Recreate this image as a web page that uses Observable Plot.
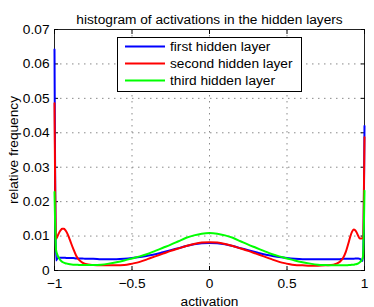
<!DOCTYPE html>
<html>
<head>
<meta charset="utf-8">
<script src="https://cdn.jsdelivr.net/npm/d3@7"></script>
<script src="https://cdn.jsdelivr.net/npm/@observablehq/plot@0.6"></script>
<style>
  html, body { margin: 0; padding: 0; background: #fff; }
  #wrap { position: relative; width: 374px; height: 307px; font-family: "Liberation Sans", Arial, sans-serif; }
  #legend { position: absolute; left: 117px; top: 37px; }
</style>
</head>
<body>
<div id="wrap">
  <div id="chart"></div>
  <svg id="legend" width="185" height="55"></svg>
</div>
<script>
const activation = [
  -1, -0.99, -0.98, -0.97, -0.96, -0.95, -0.94, -0.93, -0.92, -0.91, -0.9, -0.88, -0.86, -0.84, -0.82, -0.8,
  -0.75, -0.7, -0.65, -0.6, -0.55, -0.5, -0.45, -0.4, -0.35, -0.3, -0.25, -0.2, -0.15, -0.1, -0.05,
  0,
  0.05, 0.1, 0.15, 0.2, 0.25, 0.3, 0.35, 0.4, 0.45, 0.5, 0.55, 0.6, 0.65, 0.7, 0.75,
  0.8, 0.82, 0.84, 0.86, 0.88, 0.9, 0.91, 0.92, 0.93, 0.94, 0.95, 0.96, 0.97, 0.98, 0.99, 1
];
const firstLayer = [
  0.0642, 0.0029, 0.0036, 0.0037, 0.0037, 0.0037, 0.0037, 0.0037, 0.0036, 0.0036, 0.0036, 0.0036, 0.0035, 0.0035, 0.0035, 0.0034,
  0.0034, 0.0033, 0.0033, 0.0033, 0.0034, 0.0036, 0.0039, 0.0043, 0.0047, 0.0053, 0.0059, 0.0065, 0.0071, 0.0076, 0.0079,
  0.0080,
  0.0079, 0.0076, 0.0071, 0.0065, 0.0059, 0.0053, 0.0047, 0.0043, 0.0039, 0.0036, 0.0034, 0.0033, 0.0033, 0.0033, 0.0033,
  0.0033, 0.0033, 0.0033, 0.0034, 0.0034, 0.0034, 0.0034, 0.0034, 0.0034, 0.0035, 0.0035, 0.0035, 0.0034, 0.0030, 0.0028, 0.0420
];
const secondLayer = [
  0.0486, 0.0092, 0.0100, 0.0110, 0.0117, 0.0121, 0.0121, 0.0117, 0.0110, 0.0100, 0.0088, 0.0064, 0.0043, 0.0030, 0.0023, 0.0019,
  0.0016, 0.0015, 0.0015, 0.0015, 0.0016, 0.0020, 0.0025, 0.0033, 0.0041, 0.0049, 0.0057, 0.0064, 0.0071, 0.0077, 0.0081,
  0.0082,
  0.0081, 0.0077, 0.0071, 0.0064, 0.0057, 0.0049, 0.0041, 0.0033, 0.0025, 0.0020, 0.0016, 0.0015, 0.0014, 0.0014, 0.0015,
  0.0017, 0.0020, 0.0025, 0.0035, 0.0055, 0.0085, 0.0101, 0.0113, 0.0119, 0.0117, 0.0110, 0.0100, 0.0093, 0.0093, 0.0095, 0.0387
];
const thirdLayer = [
  0.0228, 0.0060, 0.0044, 0.0035, 0.0029, 0.0025, 0.0023, 0.0021, 0.0020, 0.0019, 0.0018, 0.0017, 0.0017, 0.0016, 0.0016, 0.0016,
  0.0016, 0.0017, 0.0020, 0.0024, 0.0029, 0.0035, 0.0041, 0.0048, 0.0057, 0.0066, 0.0075, 0.0085, 0.0095, 0.0102, 0.0107,
  0.0109,
  0.0107, 0.0102, 0.0095, 0.0085, 0.0075, 0.0066, 0.0057, 0.0048, 0.0041, 0.0035, 0.0029, 0.0024, 0.0020, 0.0017, 0.0016,
  0.0015, 0.0015, 0.0015, 0.0015, 0.0015, 0.0016, 0.0016, 0.0017, 0.0017, 0.0018, 0.0019, 0.0021, 0.0024, 0.0029, 0.0040, 0.0232
];
const seriesNames = ["first hidden layer", "second hidden layer", "third hidden layer"];
const seriesColors = ["#0000ff", "#ff0000", "#00ff00"];
const xTicks = [-1, -0.5, 0, 0.5, 1];
const yTicks = [0, 0.01, 0.02, 0.03, 0.04, 0.05, 0.06, 0.07];
const titleText = "histogram of activations in the hidden layers";
const xLabel = "activation";
const yLabel = "relative frequency";

const seriesValues = [firstLayer, secondLayer, thirdLayer];
const rows = [];
seriesValues.forEach((vals, s) => {
  vals.forEach((v, i) => rows.push({x: activation[i], y: v, series: seriesNames[s]}));
});

const fontSize = 13.7;
const fmt = d => (d < 0 ? "\u2212" : "") + String(Math.abs(d));
const gridStyle = {stroke: "#8a8a8a", strokeOpacity: 1, strokeDasharray: "1.5,4.5"};

const chart = Plot.plot({
  width: 374,
  height: 307,
  marginLeft: 54,
  marginRight: 10,
  marginTop: 29,
  marginBottom: 37,
  style: {fontFamily: "'Liberation Sans', Arial, sans-serif", fontSize: fontSize + "px", background: "white", color: "#000"},
  x: {domain: [-1, 1]},
  y: {domain: [0, 0.07]},
  color: {domain: seriesNames, range: seriesColors},
  marks: [
    Plot.gridX(xTicks.filter(t => t > -1 && t < 1), gridStyle),
    Plot.gridY(yTicks.filter(t => t > 0 && t < 0.07), gridStyle),
    Plot.frame({stroke: "#222"}),
    Plot.axisX(xTicks, {anchor: "bottom", tickSize: -4, tickPadding: 12, tickFormat: fmt, label: xLabel, labelAnchor: "center", labelOffset: 35, labelArrow: "none"}),
    Plot.axisX(xTicks, {anchor: "top", tickSize: -4, tickFormat: () => "", label: null}),
    Plot.axisY(yTicks, {anchor: "left", tickSize: -4, tickPadding: 9, tickFormat: fmt, label: yLabel, labelAnchor: "center", labelOffset: 46, labelArrow: "none"}),
    Plot.axisY(yTicks, {anchor: "right", tickSize: -4, tickFormat: () => "", label: null}),
    Plot.lineY(rows, {x: "x", y: "y", z: "series", stroke: "series", strokeWidth: 2, curve: "monotone-x"}),
    Plot.text([titleText], {frameAnchor: "top", dy: -15, fontSize: fontSize})
  ]
});
document.getElementById("chart").appendChild(chart);

// legend
const legend = d3.select("#legend");
legend.append("rect").attr("x", 0.5).attr("y", 0.5).attr("width", 184).attr("height", 54)
  .attr("fill", "white").attr("stroke", "#000");
seriesNames.forEach((name, i) => {
  const cy = 9.5 + i * 17;
  legend.append("line").attr("x1", 8).attr("x2", 48).attr("y1", cy).attr("y2", cy)
    .attr("stroke", seriesColors[i]).attr("stroke-width", 2);
  legend.append("text").attr("x", 53).attr("y", cy).attr("dy", "0.35em")
    .attr("font-family", "'Liberation Sans', Arial, sans-serif").attr("font-size", fontSize)
    .text(name);
});
</script>
</body>
</html>
